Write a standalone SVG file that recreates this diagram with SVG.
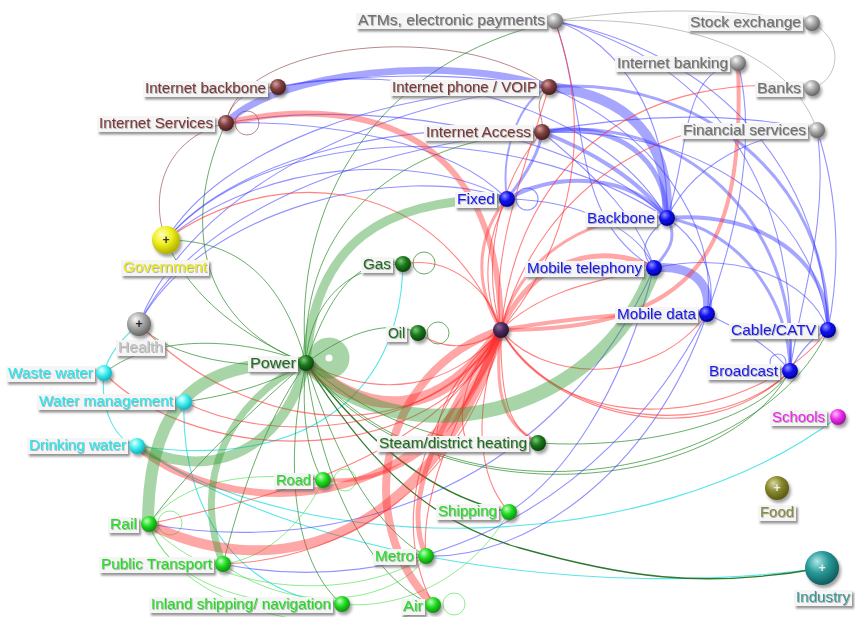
<svg xmlns="http://www.w3.org/2000/svg" width="855" height="617" viewBox="0 0 855 617">
<defs>
<style>
text{font-family:"Liberation Sans",Arial,sans-serif;font-size:14px;filter:url(#ts)}
.lb{fill:#f5f5f5;filter:url(#sh)}
.ball{filter:url(#bs)}
#edges path,#edges circle{fill:none}
.gT{stroke:#2f9a2f;stroke-opacity:.42}
.g{stroke:#2a8a2a;stroke-opacity:.7;stroke-width:1}
.gd{stroke:#1a6a1a;stroke-opacity:.9;stroke-width:1.3}
.gl{stroke:#44dd44;stroke-opacity:.6;stroke-width:1}
.rT{stroke:#ff2a2a;stroke-opacity:.42}
.r{stroke:#ff3030;stroke-opacity:.6;stroke-width:1.1}
.bT{stroke:#3a3aff;stroke-opacity:.45}
.b{stroke:#3a3aff;stroke-opacity:.55;stroke-width:1.1}
.c{stroke:#30e0e0;stroke-opacity:.8;stroke-width:1.1}
.m{stroke:#9a5a5a;stroke-opacity:.7;stroke-width:1}
.k{stroke:#999;stroke-opacity:.6;stroke-width:1}
.tk{fill:#707070}.tm{fill:#7a3838}.tb{fill:#1818f0}.td{fill:#1e6e1e}.tg{fill:#1ee01e}
.tc{fill:#20e8f0}.tp{fill:#f020f0}.ty{fill:#ecec10}.th{fill:#c4c4c4}.to{fill:#8a8a3a}.tt{fill:#3a9696}
.pl{font-size:12px;text-anchor:middle;font-weight:bold;filter:none}
</style>
<filter id="sh" x="-20%" y="-40%" width="150%" height="200%"><feDropShadow dx="2" dy="2.5" stdDeviation="1.2" flood-color="#666" flood-opacity="0.7"/></filter>
<filter id="ts" x="-5%" y="-20%" width="115%" height="150%"><feDropShadow dx="0.8" dy="0.8" stdDeviation="0.4" flood-color="#555" flood-opacity="0.55"/></filter>
<filter id="bs" x="-50%" y="-50%" width="220%" height="220%"><feDropShadow dx="2" dy="3" stdDeviation="1.5" flood-color="#444" flood-opacity="0.5"/></filter>
<radialGradient id="gGray" cx="0.4" cy="0.35" r="0.65" fx="0.35" fy="0.3"><stop offset="0" stop-color="#fafafa"/><stop offset="0.5" stop-color="#aaa"/><stop offset="1" stop-color="#666"/></radialGradient>
<radialGradient id="gMar" cx="0.4" cy="0.35" r="0.65" fx="0.35" fy="0.3"><stop offset="0" stop-color="#d8a0a0"/><stop offset="0.5" stop-color="#804040"/><stop offset="1" stop-color="#4a1c1c"/></radialGradient>
<radialGradient id="gBlue" cx="0.4" cy="0.35" r="0.65" fx="0.35" fy="0.3"><stop offset="0" stop-color="#9090ff"/><stop offset="0.5" stop-color="#1010f0"/><stop offset="1" stop-color="#00009a"/></radialGradient>
<radialGradient id="gGrn" cx="0.4" cy="0.35" r="0.65" fx="0.35" fy="0.3"><stop offset="0" stop-color="#c0ffc0"/><stop offset="0.5" stop-color="#22dd22"/><stop offset="1" stop-color="#0c900c"/></radialGradient>
<radialGradient id="gDg" cx="0.4" cy="0.35" r="0.65" fx="0.35" fy="0.3"><stop offset="0" stop-color="#80c880"/><stop offset="0.5" stop-color="#1a7a1a"/><stop offset="1" stop-color="#0a440a"/></radialGradient>
<radialGradient id="gCy" cx="0.4" cy="0.35" r="0.65" fx="0.35" fy="0.3"><stop offset="0" stop-color="#f0ffff"/><stop offset="0.5" stop-color="#40f0f0"/><stop offset="1" stop-color="#10b0c0"/></radialGradient>
<radialGradient id="gMag" cx="0.4" cy="0.35" r="0.65" fx="0.35" fy="0.3"><stop offset="0" stop-color="#ffc0ff"/><stop offset="0.5" stop-color="#ee30ee"/><stop offset="1" stop-color="#a010a0"/></radialGradient>
<radialGradient id="gYel" cx="0.4" cy="0.35" r="0.65" fx="0.35" fy="0.3"><stop offset="0" stop-color="#ffffc0"/><stop offset="0.5" stop-color="#f0f020"/><stop offset="1" stop-color="#b0b000"/></radialGradient>
<radialGradient id="gOl" cx="0.4" cy="0.35" r="0.65" fx="0.35" fy="0.3"><stop offset="0" stop-color="#d8d8a0"/><stop offset="0.5" stop-color="#8a8a30"/><stop offset="1" stop-color="#5a5a10"/></radialGradient>
<radialGradient id="gTe" cx="0.4" cy="0.35" r="0.65" fx="0.35" fy="0.3"><stop offset="0" stop-color="#b0e8e8"/><stop offset="0.5" stop-color="#2a9a9a"/><stop offset="1" stop-color="#105e5e"/></radialGradient>
<radialGradient id="gPu" cx="0.4" cy="0.35" r="0.65" fx="0.35" fy="0.3"><stop offset="0" stop-color="#8a6a9a"/><stop offset="0.5" stop-color="#4a2a5a"/><stop offset="1" stop-color="#2a1030"/></radialGradient>
</defs>
<rect width="855" height="617" fill="#fff"/>
<g id="edges">
<!-- thin gray -->
<path class="k" d="M555,21 C650,5 750,10 812,23"/>
<path class="k" d="M812,23 C845,40 840,80 812,88"/>
<path class="k" d="M555,21 C680,15 790,50 817,130"/>
<!-- maroon -->
<path class="m" d="M226,123 C230,100 250,88 278,87"/>
<circle class="m" cx="247" cy="123" r="12"/>
<path class="m" d="M226,123 C160,140 150,200 166,240"/>
<path class="m" d="M226,123 C240,40 460,20 549,87"/>
<path class="m" d="M549,87 C530,105 545,115 542,132" stroke-width="2"/>
<!-- cyan -->
<path class="c" d="M137,446 C300,560 600,600 822,568"/>
<path class="c" d="M137,446 C300,560 650,560 838,417"/>
<path class="c" d="M403,264 C400,400 300,470 137,446"/>
<path class="c" d="M139,324 C120,340 108,355 104,373"/>
<path class="c" d="M104,373 C100,410 115,440 137,446"/>
<path class="c" d="M184,402 C180,520 250,600 342,604"/>
<!-- thin green -->
<path class="g" d="M166,240 C230,240 280,270 306,363"/>
<path class="g" d="M166,240 C190,300 250,340 306,363"/>
<path class="g" d="M226,123 C185,210 190,320 306,363"/>
<path class="g" d="M306,363 C290,200 380,60 555,21"/>
<path class="g" d="M306,363 C300,220 400,140 542,132"/>
<path class="g" d="M306,363 C310,300 350,265 403,264"/>
<path class="g" d="M306,363 C330,290 360,255 403,264"/>
<path class="g" d="M306,363 C350,330 390,320 418,333"/>
<path class="g" d="M306,363 C380,430 470,450 538,443"/>
<path class="g" d="M306,363 C300,420 310,460 323,480"/>
<path class="g" d="M306,363 C340,470 380,530 426,556"/>
<path class="g" d="M306,363 C320,480 370,580 433,605"/>
<path class="g" d="M306,363 C280,480 300,570 342,604"/>
<path class="g" d="M306,363 C240,420 180,480 149,524"/>
<path class="g" d="M306,363 C260,430 240,500 223,564"/>
<path class="g" d="M139,324 C170,360 250,370 306,363"/>
<path class="g" d="M184,402 C230,395 270,385 306,363"/>
<path class="g" d="M104,373 C160,330 250,340 306,363"/>
<path class="g" d="M306,363 C420,520 720,500 790,371"/>
<path class="g" d="M306,363 C450,540 760,480 828,330"/>
<path class="g" d="M538,443 C650,450 760,420 790,371"/>
<path class="gd" d="M306,363 C380,460 450,500 509,512"/>
<path class="gd" d="M306,363 C360,450 420,520 520,548 S700,590 822,568"/>
<circle class="g" cx="424" cy="263" r="11"/>
<circle class="g" cx="438" cy="333" r="11"/>
<!-- light green -->
<path class="gl" d="M149,524 C170,590 270,610 342,604"/>
<path class="gl" d="M149,524 C190,630 380,640 433,605"/>
<path class="gl" d="M323,480 C300,530 260,560 223,564"/>
<path class="gl" d="M223,564 C300,620 400,600 426,556"/>
<path class="gl" d="M509,512 C470,580 400,610 342,604"/>
<path class="gl" d="M149,524 C220,600 360,600 426,556"/>
<path class="gl" d="M323,480 C250,470 180,480 149,524"/>
<circle class="gl" cx="345" cy="480" r="11"/>
<circle class="gl" cx="170" cy="523" r="12"/>
<circle class="gl" cx="454" cy="604" r="11"/>
<!-- thin blue -->
<path class="b" d="M166,240 C220,150 380,90 549,87"/>
<path class="b" d="M166,240 C240,150 420,120 542,132"/>
<path class="b" d="M166,240 C260,130 500,110 667,218"/>
<path class="b" d="M166,240 C260,160 420,150 507,199"/>
<path class="b" d="M139,324 C190,190 380,100 549,87"/>
<path class="b" d="M139,324 C200,200 400,140 542,132"/>
<path class="b" d="M139,324 C200,210 400,160 507,199"/>
<path class="b" d="M226,123 C320,120 450,140 507,199"/>
<path class="b" d="M226,123 C350,100 560,120 667,218"/>
<path class="b" d="M278,87 C380,70 480,75 549,87" stroke-width="2"/>
<path class="b" d="M278,87 C400,60 600,100 667,218"/>
<path class="b" d="M555,21 C620,40 670,120 667,218"/>
<path class="b" d="M555,21 C590,120 570,220 654,268"/>
<path class="b" d="M555,21 C700,50 820,150 828,330"/>
<path class="b" d="M555,21 C720,60 800,200 790,371"/>
<path class="b" d="M738,63 C680,70 690,150 667,218"/>
<path class="b" d="M738,63 C760,150 730,250 707,314"/>
<path class="b" d="M667,218 C700,150 780,130 817,130"/>
<path class="b" d="M542,132 C650,110 750,115 817,130"/>
<path class="b" d="M542,132 C700,130 810,200 828,330"/>
<path class="b" d="M817,130 C840,200 840,270 828,330"/>
<path class="b" d="M817,130 C830,220 800,300 790,371"/>
<path class="b" d="M549,87 C650,130 720,220 707,314"/>
<path class="b" d="M542,132 C600,180 640,220 654,268"/>
<path class="b" d="M507,199 C580,200 640,230 654,268"/>
<path class="b" d="M667,218 C700,240 720,280 707,314"/>
<path class="b" d="M654,268 C740,250 810,280 828,330"/>
<path class="b" d="M790,371 C800,350 815,335 828,330"/>
<path class="b" d="M707,314 C740,330 770,345 790,371"/>
<path class="b" d="M707,314 C650,480 520,560 426,556"/>
<path class="b" d="M654,268 C620,400 560,480 509,512"/>
<path class="b" d="M149,524 C350,560 560,480 654,268"/>
<path class="b" d="M223,564 C400,600 600,520 707,314"/>
<path class="b" d="M667,218 C640,240 640,255 654,268"/>
<circle class="b" cx="527" cy="199" r="11"/>
<circle class="b" cx="778" cy="362" r="8"/>
<!-- thick blue -->
<path class="bT" stroke-width="7" d="M226,123 C280,70 450,55 549,87"/>
<path class="bT" stroke-width="10" d="M549,87 C630,95 670,140 667,218"/>
<path class="bT" stroke-width="5" d="M542,132 C620,120 665,160 667,218"/>
<path class="bT" stroke-width="4" d="M542,132 C590,150 640,180 667,218"/>
<path class="bT" stroke-width="4" d="M507,199 C560,170 630,175 667,218"/>
<path class="bT" stroke-width="3" d="M507,199 C530,170 540,150 542,132"/>
<path class="bT" stroke-width="2" d="M507,199 C500,150 520,100 549,87"/>
<path class="bT" stroke-width="9" d="M654,268 C690,265 712,280 707,314"/>
<path class="bT" stroke-width="4" d="M667,218 C760,210 830,260 828,330"/>
<path class="bT" stroke-width="3" d="M667,218 C740,230 790,300 790,371"/>
<path class="bT" stroke-width="3" d="M549,87 C700,75 830,180 828,330"/>
<path class="bT" stroke-width="3" d="M542,132 C680,110 800,220 790,371"/>
<path class="bT" stroke-width="3" d="M667,218 C680,240 665,255 654,268"/>
<!-- thin red -->
<path class="r" d="M166,240 C260,170 430,160 501,330"/>
<path class="r" d="M139,324 C250,440 430,450 501,330"/>
<path class="r" d="M104,373 C200,470 440,470 501,330"/>
<path class="r" d="M184,402 C280,450 440,430 501,330"/>
<path class="r" d="M223,564 C350,560 470,480 501,330"/>
<path class="r" d="M149,524 C250,500 430,470 501,330"/>
<path class="r" d="M403,264 C450,255 490,290 501,330"/>
<path class="r" d="M418,333 C450,355 480,345 501,330"/>
<path class="r" d="M555,21 C600,150 560,260 501,330"/>
<path class="r" d="M549,87 C520,180 490,260 501,330"/>
<path class="r" d="M542,132 C500,180 480,260 501,330"/>
<path class="r" d="M812,88 C650,70 520,150 501,330"/>
<path class="r" d="M817,130 C680,100 540,180 501,330"/>
<path class="r" d="M501,330 C560,430 720,440 790,371"/>
<path class="r" d="M501,330 C540,410 700,460 790,371"/>
<path class="r" d="M501,330 C570,450 760,420 828,330"/>
<path class="r" d="M501,330 C540,380 650,390 707,314"/>
<path class="r" d="M501,330 C470,420 480,480 509,512"/>
<path class="r" d="M501,330 C500,400 510,430 538,443"/>
<path class="r" d="M501,330 C450,430 420,500 426,556"/>
<path class="r" d="M501,330 C420,420 390,520 433,605"/>
<path class="r" d="M501,330 C440,390 430,430 440,460"/>
<path class="r" d="M501,330 C460,380 455,420 470,450"/>
<path class="r" d="M306,363 C380,400 450,390 501,330"/>
<path class="r" d="M507,199 C480,250 485,300 501,330"/>
<path class="r" d="M654,268 C600,280 540,290 501,330"/>
<!-- thick red -->
<path class="rT" stroke-width="6" d="M226,123 C350,95 500,120 501,330"/>
<path class="rT" stroke-width="4" d="M738,63 C745,250 700,330 501,330"/>
<path class="rT" stroke-width="5" d="M501,330 C530,260 600,240 654,268"/>
<path class="rT" stroke-width="4" d="M501,330 C560,320 640,310 707,314"/>
<path class="rT" stroke-width="3" d="M501,330 C520,250 600,210 667,218"/>
<path class="rT" stroke-width="3" d="M501,330 C470,280 480,230 507,199"/>
<path class="rT" stroke-width="3" d="M501,330 C490,420 520,430 538,443"/>
<path class="rT" stroke-width="4" d="M323,480 C390,485 460,450 501,330"/>
<path class="rT" stroke-width="5" d="M501,330 C440,420 400,500 426,556"/>
<path class="rT" stroke-width="8" d="M501,330 C380,370 350,520 433,605"/>
<path class="rT" stroke-width="7" d="M137,446 C210,510 420,540 501,330"/>
<path class="rT" stroke-width="10" d="M149,524 C260,580 420,560 501,330"/>
<path class="rT" stroke-width="12" d="M306,363 C370,420 440,420 501,330"/>
<!-- thick green -->
<path class="gT" stroke-width="9" d="M306,363 C315,240 385,200 500,199"/>
<path class="gT" stroke-width="14" d="M306,363 C400,460 600,420 654,268"/>
<path class="gT" stroke-width="12" d="M306,363 C200,360 148,400 148,524"/>
<path class="gT" stroke-width="10" d="M137,446 C200,480 280,460 306,363"/>
<path class="gT" stroke-width="7" d="M306,363 C230,400 190,480 223,564"/>
<circle class="gT" stroke-width="17" cx="329" cy="358" r="12"/>
</g>
<g id="n-atms"><rect class="lb" x="356" y="13" width="191" height="16"/><text class="tk" x="358" y="25" textLength="187" lengthAdjust="spacingAndGlyphs">ATMs, electronic payments</text><circle class="ball" cx="555" cy="21" r="8" fill="url(#gGray)"/></g>
<g id="n-stock"><rect class="lb" x="688" y="15" width="115" height="16"/><text class="tk" x="690" y="27" textLength="111" lengthAdjust="spacingAndGlyphs">Stock exchange</text><circle class="ball" cx="812" cy="23" r="8" fill="url(#gGray)"/></g>
<g id="n-ibanking"><rect class="lb" x="615" y="56" width="115" height="16"/><text class="tk" x="617" y="68" textLength="111" lengthAdjust="spacingAndGlyphs">Internet banking</text><circle class="ball" cx="738" cy="63" r="8" fill="url(#gGray)"/></g>
<g id="n-banks"><rect class="lb" x="755" y="81" width="48" height="16"/><text class="tk" x="757" y="93" textLength="44" lengthAdjust="spacingAndGlyphs">Banks</text><circle class="ball" cx="812" cy="88" r="8" fill="url(#gGray)"/></g>
<g id="n-financial"><rect class="lb" x="681" y="123" width="127" height="16"/><text class="tk" x="683" y="135" textLength="123" lengthAdjust="spacingAndGlyphs">Financial services</text><circle class="ball" cx="817" cy="130" r="8" fill="url(#gGray)"/></g>
<g id="n-ibackbone"><rect class="lb" x="143" y="81" width="125" height="16"/><text class="tm" x="145" y="93" textLength="121" lengthAdjust="spacingAndGlyphs">Internet backbone</text><circle class="ball" cx="278" cy="87" r="8" fill="url(#gMar)"/></g>
<g id="n-voip"><rect class="lb" x="390" y="80" width="149" height="16"/><text class="tm" x="392" y="92" textLength="145" lengthAdjust="spacingAndGlyphs">Internet phone / VOIP</text><circle class="ball" cx="549" cy="87" r="8" fill="url(#gMar)"/></g>
<g id="n-iservices"><rect class="lb" x="97" y="116" width="118" height="16"/><text class="tm" x="99" y="128" textLength="114" lengthAdjust="spacingAndGlyphs">Internet Services</text><circle class="ball" cx="226" cy="123" r="8" fill="url(#gMar)"/></g>
<g id="n-iaccess"><rect class="lb" x="424" y="125" width="109" height="16"/><text class="tm" x="426" y="137" textLength="105" lengthAdjust="spacingAndGlyphs">Internet Access</text><circle class="ball" cx="542" cy="132" r="8" fill="url(#gMar)"/></g>
<g id="n-fixed"><rect class="lb" x="455" y="192" width="42" height="16"/><text class="tb" x="457" y="204" textLength="38" lengthAdjust="spacingAndGlyphs">Fixed</text><circle class="ball" cx="507" cy="199" r="8" fill="url(#gBlue)"/></g>
<g id="n-backbone"><rect class="lb" x="585" y="211" width="72" height="16"/><text class="tb" x="587" y="223" textLength="68" lengthAdjust="spacingAndGlyphs">Backbone</text><circle class="ball" cx="667" cy="218" r="8" fill="url(#gBlue)"/></g>
<g id="n-government"><rect class="lb" x="121" y="260" width="88" height="16"/><text class="ty" x="123" y="272" textLength="84" lengthAdjust="spacingAndGlyphs">Government</text><circle class="ball" cx="166" cy="240" r="14" fill="url(#gYel)"/><text class="pl" x="166" y="244" fill="#333">+</text></g>
<g id="n-gas"><rect class="lb" x="361" y="257" width="32" height="16"/><text class="td" x="363" y="269" textLength="28" lengthAdjust="spacingAndGlyphs">Gas</text><circle class="ball" cx="403" cy="264" r="8" fill="url(#gDg)"/></g>
<g id="n-mobiletel"><rect class="lb" x="525" y="261" width="119" height="16"/><text class="tb" x="527" y="273" textLength="115" lengthAdjust="spacingAndGlyphs">Mobile telephony</text><circle class="ball" cx="654" cy="268" r="8" fill="url(#gBlue)"/></g>
<g id="n-oil"><rect class="lb" x="386" y="326" width="21" height="16"/><text class="td" x="388" y="338" textLength="17" lengthAdjust="spacingAndGlyphs">Oil</text><circle class="ball" cx="418" cy="333" r="8" fill="url(#gDg)"/></g>
<g id="n-mobiledata"><rect class="lb" x="615" y="307" width="83" height="16"/><text class="tb" x="617" y="319" textLength="79" lengthAdjust="spacingAndGlyphs">Mobile data</text><circle class="ball" cx="707" cy="314" r="8" fill="url(#gBlue)"/></g>
<g id="n-cable"><rect class="lb" x="729" y="323" width="89" height="16"/><text class="tb" x="731" y="335" textLength="85" lengthAdjust="spacingAndGlyphs">Cable/CATV</text><circle class="ball" cx="828" cy="330" r="8" fill="url(#gBlue)"/></g>
<g id="n-hub"><circle class="ball" cx="501" cy="330" r="8" fill="url(#gPu)"/></g>
<g id="n-health"><rect class="lb" x="116" y="340" width="49" height="16"/><text class="th" x="118" y="352" textLength="45" lengthAdjust="spacingAndGlyphs">Health</text><circle class="ball" cx="139" cy="324" r="12" fill="url(#gGray)"/><text class="pl" x="139" y="328" fill="#222">+</text></g>
<g id="n-power"><rect class="lb" x="248" y="356" width="50" height="16"/><text class="td" x="250" y="368" textLength="46" lengthAdjust="spacingAndGlyphs">Power</text><circle class="ball" cx="306" cy="363" r="8" fill="url(#gDg)"/></g>
<g id="n-wastewater"><rect class="lb" x="6" y="366" width="89" height="16"/><text class="tc" x="8" y="378" textLength="85" lengthAdjust="spacingAndGlyphs">Waste water</text><circle class="ball" cx="104" cy="373" r="8" fill="url(#gCy)"/></g>
<g id="n-broadcast"><rect class="lb" x="707" y="364" width="73" height="16"/><text class="tb" x="709" y="376" textLength="69" lengthAdjust="spacingAndGlyphs">Broadcast</text><circle class="ball" cx="790" cy="371" r="8" fill="url(#gBlue)"/></g>
<g id="n-watermgmt"><rect class="lb" x="37" y="394" width="138" height="16"/><text class="tc" x="39" y="406" textLength="134" lengthAdjust="spacingAndGlyphs">Water management</text><circle class="ball" cx="184" cy="402" r="8" fill="url(#gCy)"/></g>
<g id="n-schools"><rect class="lb" x="770" y="410" width="57" height="16"/><text class="tp" x="772" y="422" textLength="53" lengthAdjust="spacingAndGlyphs">Schools</text><circle class="ball" cx="838" cy="417" r="8" fill="url(#gMag)"/></g>
<g id="n-drinking"><rect class="lb" x="27" y="438" width="101" height="16"/><text class="tc" x="29" y="450" textLength="97" lengthAdjust="spacingAndGlyphs">Drinking water</text><circle class="ball" cx="137" cy="446" r="8" fill="url(#gCy)"/></g>
<g id="n-steam"><rect class="lb" x="377" y="436" width="152" height="16"/><text class="td" x="379" y="448" textLength="148" lengthAdjust="spacingAndGlyphs">Steam/district heating</text><circle class="ball" cx="538" cy="443" r="8" fill="url(#gDg)"/></g>
<g id="n-road"><rect class="lb" x="274" y="473" width="39" height="16"/><text class="tg" x="276" y="485" textLength="35" lengthAdjust="spacingAndGlyphs">Road</text><circle class="ball" cx="323" cy="480" r="8" fill="url(#gGrn)"/></g>
<g id="n-food"><rect class="lb" x="758" y="505" width="38" height="16"/><text class="to" x="760" y="517" textLength="34" lengthAdjust="spacingAndGlyphs">Food</text><circle class="ball" cx="777" cy="488" r="12" fill="url(#gOl)"/><text class="pl" x="777" y="492" fill="#eee">+</text></g>
<g id="n-shipping"><rect class="lb" x="436" y="504" width="63" height="16"/><text class="tg" x="438" y="516" textLength="59" lengthAdjust="spacingAndGlyphs">Shipping</text><circle class="ball" cx="509" cy="512" r="8" fill="url(#gGrn)"/></g>
<g id="n-rail"><rect class="lb" x="108" y="517" width="31" height="16"/><text class="tg" x="110" y="529" textLength="27" lengthAdjust="spacingAndGlyphs">Rail</text><circle class="ball" cx="149" cy="524" r="8" fill="url(#gGrn)"/></g>
<g id="n-metro"><rect class="lb" x="373" y="549" width="43" height="16"/><text class="tg" x="375" y="561" textLength="39" lengthAdjust="spacingAndGlyphs">Metro</text><circle class="ball" cx="426" cy="556" r="8" fill="url(#gGrn)"/></g>
<g id="n-publictransport"><rect class="lb" x="99" y="557" width="115" height="16"/><text class="tg" x="101" y="569" textLength="111" lengthAdjust="spacingAndGlyphs">Public Transport</text><circle class="ball" cx="223" cy="564" r="8" fill="url(#gGrn)"/></g>
<g id="n-industry"><rect class="lb" x="794" y="590" width="58" height="16"/><text class="tt" x="796" y="602" textLength="54" lengthAdjust="spacingAndGlyphs">Industry</text><circle class="ball" cx="822" cy="568" r="17" fill="url(#gTe)"/><text class="pl" x="822" y="572" fill="#eee">+</text></g>
<g id="n-inland"><rect class="lb" x="149" y="597" width="184" height="16"/><text class="tg" x="151" y="609" textLength="180" lengthAdjust="spacingAndGlyphs">Inland shipping/ navigation</text><circle class="ball" cx="342" cy="604" r="8" fill="url(#gGrn)"/></g>
<g id="n-air"><rect class="lb" x="401" y="599" width="24" height="16"/><text class="tg" x="403" y="611" textLength="20" lengthAdjust="spacingAndGlyphs">Air</text><circle class="ball" cx="433" cy="605" r="8" fill="url(#gGrn)"/></g>
</svg>
